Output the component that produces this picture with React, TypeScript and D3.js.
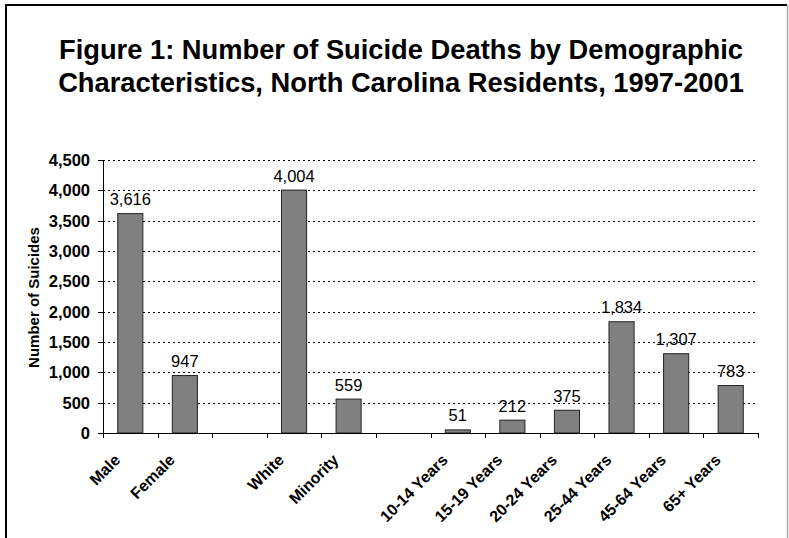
import React from "react";
import * as d3 from "d3";

const categories = [
  "Male", "Female", "", "White", "Minority", " ",
  "10-14 Years", "15-19 Years", "20-24 Years", "25-44 Years", "45-64 Years", "65+ Years",
];
const values: (number | null)[] = [3616, 947, null, 4004, 559, null, 51, 212, 375, 1834, 1307, 783];
const yTicks = [0, 500, 1000, 1500, 2000, 2500, 3000, 3500, 4000, 4500];

const W = 789;
const H = 538;
const FONT = "'Liberation Sans', Arial, sans-serif";

export default function App() {
  const left = 103;
  const right = 758;
  const top = 160;
  const bottom = 433;

  const x = d3.scaleBand<string>().domain(categories).range([left, right]).paddingInner(0).paddingOuter(0);
  const y = d3.scaleLinear().domain([0, 4500]).range([bottom, top]);
  const bw = x.bandwidth();
  const barW = bw * 0.46;
  const fmt = d3.format(",");

  const boundaries = d3.range(categories.length + 1).map((i) => left + i * bw);

  return (
    <div style={{ position: "absolute", left: 0, top: 0 }}>
      <svg width={W} height={H} style={{ display: "block", background: "#fff" }}>
        {/* outer frame */}
        <line x1={6} x2={787} y1={5} y2={5} stroke="#000" strokeWidth={2} />
        <line x1={6} x2={6} y1={4} y2={H} stroke="#000" strokeWidth={2} />
        <line x1={787.5} x2={787.5} y1={5} y2={H} stroke="#aaa" strokeWidth={1.5} />

        <text x={401} y={59} textAnchor="middle" fontFamily={FONT} fontWeight="bold" fontSize={27.3}>
          Figure 1: Number of Suicide Deaths by Demographic
        </text>
        <text x={401} y={92} textAnchor="middle" fontFamily={FONT} fontWeight="bold" fontSize={27.3}>
          Characteristics, North Carolina Residents, 1997-2001
        </text>

        {/* gridlines */}
        {yTicks.filter((t) => t > 0).map((t) => (
          <line key={"g" + t} x1={left} x2={right - 3} y1={Math.round(y(t)) + 0.5} y2={Math.round(y(t)) + 0.5}
            stroke="#000" strokeWidth={1} strokeDasharray="2,3" />
        ))}

        {/* bars */}
        {categories.map((c, i) => {
          const v = values[i];
          if (v == null) return null;
          const cx = (x(c) as number) + bw / 2;
          return (
            <g key={"b" + i}>
              <rect x={cx - barW / 2} y={y(v)} width={barW} height={bottom - y(v)}
                fill="#808080" stroke="#222" strokeWidth={1} />
              <text x={cx} y={y(v) - 8.5} textAnchor="middle" fontFamily={FONT} fontSize={16.5}>
                {fmt(v)}
              </text>
            </g>
          );
        })}

        {/* y axis */}
        <line x1={left + 0.5} x2={left + 0.5} y1={top} y2={bottom} stroke="#000" />
        {yTicks.map((t) => (
          <g key={"y" + t}>
            <line x1={left - 5} x2={left} y1={Math.round(y(t)) + 0.5} y2={Math.round(y(t)) + 0.5} stroke="#000" />
            <text x={left - 13} y={y(t) + 6} textAnchor="end" fontFamily={FONT} fontWeight="bold" fontSize={16.5}>
              {fmt(t)}
            </text>
          </g>
        ))}
        <text transform={`translate(39,${(top + bottom) / 2 + 1}) rotate(-90)`} textAnchor="middle"
          fontFamily={FONT} fontWeight="bold" fontSize={15}>
          Number of Suicides
        </text>

        {/* x axis */}
        <line x1={left} x2={right} y1={bottom + 0.5} y2={bottom + 0.5} stroke="#000" />
        {boundaries.map((bx, i) => (
          <line key={"t" + i} x1={Math.round(bx) + 0.5} x2={Math.round(bx) + 0.5} y1={bottom} y2={bottom + 5} stroke="#000" />
        ))}
        {categories.map((c, i) => {
          if (!c.trim()) return null;
          const cx = (x(c) as number) + bw / 2;
          return (
            <text key={"x" + i} transform={`translate(${cx - 9},${bottom + 28}) rotate(-45)`} textAnchor="end"
              fontFamily={FONT} fontWeight="bold" fontSize={16}>
              {c}
            </text>
          );
        })}
      </svg>
    </div>
  );
}
